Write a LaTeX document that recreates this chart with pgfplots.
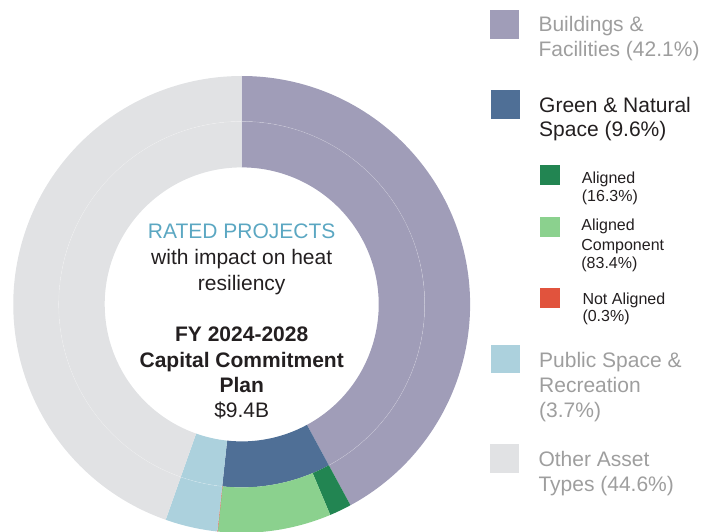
\documentclass[border=0pt]{standalone}
\usepackage{pgfplots}
\pgfplotsset{compat=1.18}
\usepackage{pgfplotstable}
\usepackage{fontspec}
\setmainfont{Liberation Sans}

\definecolor{build}{HTML}{A09DB8}
\definecolor{gns}{HTML}{4F6F96}
\definecolor{gal}{HTML}{228552}
\definecolor{gac}{HTML}{8BD18E}
\definecolor{gna}{HTML}{E1533D}
\definecolor{pub}{HTML}{ACD1DD}
\definecolor{oth}{HTML}{E1E2E4}
\definecolor{txtgrey}{HTML}{9E9E9E}
\definecolor{txtdark}{HTML}{231F20}
\definecolor{txtblue}{HTML}{5BA7C2}

% shares of the total (%), clockwise from 12 o'clock
\pgfplotstableread{
name  share
build 42.1
gns   9.6
pub   3.7
oth   44.6
}\innerring
% green & natural space split: 16.3 / 83.4 / 0.3 % of 9.6
\pgfplotstableread{
name  share
build 42.1
gal   1.5648
gac   8.0064
gna   0.0288
pub   3.7
oth   44.6
}\outerring

\def\cx{241.7}
\def\cy{226.6}
\newcommand\ringseg[5]{% from, to (percent), r in, r out, colour
  \fill[#5] (axis cs:{\cx+#4*cos(90-3.6*#1)},{\cy+#4*sin(90-3.6*#1)})
    arc[start angle={90-3.6*#1}, end angle={90-3.6*#2}, radius=#4pt]
    -- (axis cs:{\cx+#3*cos(90-3.6*#2)},{\cy+#3*sin(90-3.6*#2)})
    arc[start angle={90-3.6*#2}, end angle={90-3.6*#1}, radius=#3pt] -- cycle;}

\newcommand\drawring[3]{% table, r in, r out
  \pgfplotstablegetrowsof{#1}\let\nrows\pgfmathresult
  \def\acc{0}
  \pgfplotsforeachungrouped \i in {1,...,\nrows}{%
    \pgfmathtruncatemacro\row{\i-1}%
    \pgfplotstablegetelem{\row}{share}\of{#1}\let\v\pgfplotsretval
    \pgfplotstablegetelem{\row}{name}\of{#1}\let\c\pgfplotsretval
    \pgfmathsetmacro\nacc{\acc+\v}%
    \edef\cmd{\noexpand\ringseg{\acc}{\nacc}{#2}{#3}{\c}}\cmd
    \let\acc\nacc
  }}

\newcommand\bigf{\fontsize{21}{25}\selectfont}
\newcommand\smallf{\fontsize{16}{19}\selectfont}

\begin{document}
\begin{tikzpicture}
\begin{axis}[
  hide axis,
  scale only axis,
  width=717pt, height=531pt,
  xmin=0, xmax=717, ymin=0, ymax=531,
  clip=true,
]
\drawring{\innerring}{137}{183}
\drawring{\outerring}{183}{228.4}
% faint seam between the two rings
\draw[white, opacity=0.3, line width=0.4pt]
  (axis cs:\cx,{\cy+183}) arc[start angle=90, end angle={90-3.6*42.1}, radius=183pt];
\draw[white, opacity=0.3, line width=0.4pt]
  (axis cs:{\cx+183*cos(90-3.6*51.7)},{\cy+183*sin(90-3.6*51.7)})
  arc[start angle={90-3.6*51.7}, end angle=-270, radius=183pt];

% centre text
\begin{scope}[every node/.style={anchor=base, inner sep=0pt, font=\bigf}]
\node[text=txtblue] at (axis cs:\cx,{531-238.3}) {RATED PROJECTS};
\node[text=txtdark] at (axis cs:\cx,{531-264.2}) {with impact on heat};
\node[text=txtdark] at (axis cs:\cx,{531-290.0}) {resiliency};
\node[text=txtdark, font=\bigf\bfseries] at (axis cs:\cx,{531-341.7}) {FY 2024-2028};
\node[text=txtdark, font=\bigf\bfseries] at (axis cs:\cx,{531-367.0}) {Capital Commitment};
\node[text=txtdark, font=\bigf\bfseries] at (axis cs:\cx,{531-392.0}) {Plan};
\node[text=txtdark] at (axis cs:\cx,{531-417.3}) {\$9.4B};
\end{scope}

% legend
\fill[build] (axis cs:490,{531-10}) rectangle (axis cs:519,{531-39});
\fill[gns] (axis cs:491,{531-90}) rectangle (axis cs:520,{531-119});
\fill[gal] (axis cs:540,{531-165}) rectangle (axis cs:560,{531-185});
\fill[gac] (axis cs:540,{531-217}) rectangle (axis cs:560,{531-237});
\fill[gna] (axis cs:540,{531-288}) rectangle (axis cs:560,{531-308});
\fill[pub] (axis cs:491,{531-345}) rectangle (axis cs:520,{531-373});
\fill[oth] (axis cs:490,{531-444}) rectangle (axis cs:519,{531-473});

\begin{scope}[every node/.style={anchor=base west, inner sep=0pt, font=\bigf, text=txtgrey}]
\node at (axis cs:538.3,{531-31.7}) {Buildings \&};
\node at (axis cs:538.3,{531-56.7}) {Facilities (42.1\%)};
\node[text=txtdark] at (axis cs:539,{531-112.3}) {Green \& Natural};
\node[text=txtdark] at (axis cs:539,{531-136.7}) {Space (9.6\%)};
\node at (axis cs:539,{531-367.3}) {Public Space \&};
\node at (axis cs:539,{531-392.7}) {Recreation};
\node at (axis cs:539,{531-417.3}) {(3.7\%)};
\node at (axis cs:538.3,{531-466}) {Other Asset};
\node at (axis cs:538.3,{531-491}) {Types (44.6\%)};
\end{scope}
\begin{scope}[every node/.style={anchor=base west, inner sep=0pt, font=\smallf, text=txtdark}]
\node at (axis cs:581.7,{531-183.3}) {Aligned};
\node at (axis cs:581.7,{531-201.7}) {(16.3\%)};
\node at (axis cs:581.2,{531-230.7}) {Aligned};
\node at (axis cs:581.2,{531-250}) {Component};
\node at (axis cs:581.2,{531-268.3}) {(83.4\%)};
\node at (axis cs:582.3,{531-304}) {Not Aligned};
\node at (axis cs:582.3,{531-321.7}) {(0.3\%)};
\end{scope}
\end{axis}
\pgfresetboundingbox
\path (current axis.south west) rectangle (current axis.north east);
\end{tikzpicture}
\end{document}
